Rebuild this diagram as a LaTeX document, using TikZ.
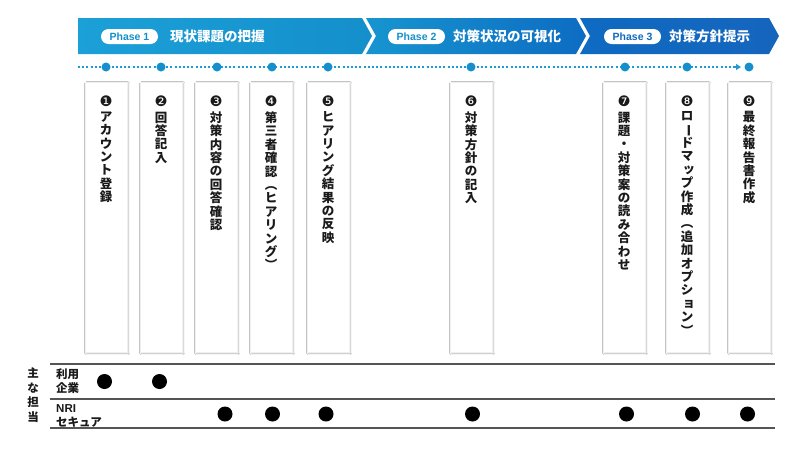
\documentclass[tikz,border=0pt]{standalone}
\usepackage{fontspec}
\usepackage{graphicx}
\setmainfont{Noto Sans CJK JP}
\newfontfamily\numfont{DejaVu Sans}
\newfontfamily\latfont{Liberation Sans}
\usetikzlibrary{arrows.meta,shadows.blur}
\definecolor{poneL}{HTML}{1CA0D8}
\definecolor{poneR}{HTML}{148FCB}
\definecolor{ptwoL}{HTML}{1795D0}
\definecolor{ptwoR}{HTML}{0D6CC2}
\definecolor{pthrL}{HTML}{0F6AC1}
\definecolor{pthrR}{HTML}{1565BD}
\definecolor{tlblue}{HTML}{1F9AD5}
\definecolor{dotblue}{HTML}{1590CD}
\definecolor{txtdark}{HTML}{1A1A1A}
\definecolor{rulegray}{HTML}{555555}
\newcommand\kv{\smash{\rotatebox[origin=c]{-90}{ー}}}
\newcommand\sk[1]{\makebox[1em][l]{\hspace{0.15em}\smash{\raisebox{0.1em}{#1}}}}
\begin{document}
\begin{tikzpicture}[x=1pt,y=-1pt,
  pill/.style={fill=white,rounded corners=7.5pt,minimum width=57pt,minimum height=15pt,inner sep=0pt,font=\latfont\bfseries\fontsize{10.5}{12}\selectfont},
  htext/.style={anchor=west,text=white,inner sep=0pt,font=\bfseries\fontsize{13.5}{15}\selectfont},
  card/.style={fill=white,draw=black!6,line width=0.4pt,minimum width=42pt,minimum height=270pt,inner sep=0pt,
    blur shadow={shadow xshift=1.2pt,shadow yshift=-1.2pt,shadow blur radius=1.6pt,shadow opacity=30}},
  numlbl/.style={inner sep=0pt,text=txtdark,font=\numfont\fontsize{14.5}{15}\selectfont},
  vtext/.style={anchor=north,align=center,inner sep=0pt,text=txtdark,font=\bfseries\fontsize{12.5}{13.4}\selectfont},
  tdot/.style={circle,fill=dotblue,minimum size=9pt,inner sep=0pt},
  timeline/.style={tlblue,line width=2pt,dash pattern=on 2pt off 2.2pt},
  tline/.style={rulegray,line width=#1},
  bdot/.style={circle,fill=black,minimum size=15pt,inner sep=0pt},
  lbl/.style={inner sep=0pt,text=txtdark,font=\bfseries\fontsize{11.5}{14.5}\selectfont}
]
\useasboundingbox (0,0) rectangle (800,450);
\fill[white] (0,0) rectangle (800,450);

% phase banners
\shade[left color=poneL,right color=poneR] (78,18) -- (362,18) -- (372,36) -- (362,54) -- (78,54) -- cycle;
\shade[left color=ptwoL,right color=ptwoR] (366,18) -- (576,18) -- (586,36) -- (576,54) -- (366,54) -- (376,36) -- cycle;
\shade[left color=pthrL,right color=pthrR] (580,18) -- (769,18) -- (779,36) -- (769,54) -- (580,54) -- (590,36) -- cycle;

\node[pill,text=poneR] (pp1) at (129.5,36.5) {Phase 1};
\node[htext] (ph1) at (170,36) {現状課題の把握};
\node[pill,text=ptwoL!85!ptwoR] (pp2) at (416.5,36.5) {Phase 2};
\node[htext] (ph2) at (453,36) {対策状況の可視化};
\node[pill,text=pthrL] (pp3) at (632.5,36.5) {Phase 3};
\node[htext] (ph3) at (669,36) {対策方針提示};

% timeline
\coordinate (ts) at (78,67);
\coordinate (te) at (741,67);
\draw[timeline] (ts) -- (734,67);
\draw[tlblue,line width=2pt,-{Triangle[length=5pt,width=6pt]}] (733,67) -- (te);
\foreach \i/\x in {1/106,2/161,3/217,4/272,5/328,6/471,7/625,8/687,9/749}{
  \node[tdot] (d\i) at (\x,67) {};
}

% cards
\newcommand\stepcard[4]{%
  \node[card] (c#1) at (#2,217) {};
  \node[numlbl] (n#1) at (#2,101) {#3};
  \node[vtext] (t#1) at (#2,111.5) {#4};
}
\stepcard{1}{106}{❶}{ア\\カ\\ウ\\ン\\ト\\登\\録}
\stepcard{2}{161}{❷}{回\\答\\記\\入}
\stepcard{3}{216}{❸}{対\\策\\内\\容\\の\\回\\答\\確\\認}
\stepcard{4}{271}{❹}{第\\三\\者\\確\\認\\︵\\ヒ\\ア\\リ\\ン\\グ\\︶}
\stepcard{5}{328}{❺}{ヒ\\ア\\リ\\ン\\グ\\結\\果\\の\\反\\映}
\stepcard{6}{471}{❻}{対\\策\\方\\針\\の\\記\\入}
\stepcard{7}{624}{❼}{課\\題\\・\\対\\策\\案\\の\\読\\み\\合\\わ\\せ}
\stepcard{8}{687}{❽}{ロ\\\kv\\ド\\マ\\\sk{ッ}\\プ\\作\\成\\︵\\追\\加\\オ\\プ\\シ\\\sk{ョ}\\ン\\︶}
\stepcard{9}{749}{❾}{最\\終\\報\\告\\書\\作\\成}

% table
\coordinate (ra) at (50,363.5);  \coordinate (rb) at (775,363.5);
\coordinate (rc) at (50,399);    \coordinate (rd) at (775,399);
\coordinate (re) at (50,428);    \coordinate (rf) at (775,428);
\draw[tline=2pt] (ra) -- (rb);
\draw[tline=1.5pt] (rc) -- (rd);
\draw[tline=2pt] (re) -- (rf);

\node[lbl,align=center] (who) at (33,395) {主\\な\\担\\当};
\node[lbl,align=left,anchor=west] (rowa) at (56,381) {利用\\企業};
\node[lbl,align=left,anchor=west,font=\bfseries\fontsize{11.5}{13.5}\selectfont] (rowb) at (56,416) {{\latfont NRI}\\セキュア};

\foreach \i/\x in {1/104.5,2/159.5}{
  \node[bdot] (ua\i) at (\x,381.5) {};
}
\foreach \i/\x in {1/225,2/272.5,3/326,4/472.5,5/626.5,6/692.5,7/747.5}{
  \node[bdot] (ub\i) at (\x,414) {};
}
\end{tikzpicture}
\end{document}
